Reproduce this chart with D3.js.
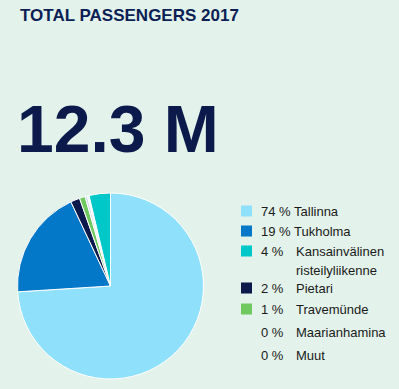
<!DOCTYPE html>
<html>
<head>
<meta charset="utf-8">
<script src="https://cdn.jsdelivr.net/npm/d3@7"></script>
<style>
  html, body { margin: 0; padding: 0; background: #e3f2ea; }
  svg { display: block; font-family: Arial, "Liberation Sans", sans-serif; }
</style>
</head>
<body>
<div id="chart"></div>
<script>
// data
var categories = ["Tallinna", "Tukholma", "Pietari", "Travemünde", "Maarianhamina", "Muut", "Kansainvälinen risteilyliikenne"];
var shares = [74.0, 19.0, 1.6, 1.0, 0.4, 0.3, 3.7];
var colors = ["#8fe1fb", "#0478c8", "#0b1a4b", "#70c95e", "#c9daf2", "#f4f8fb", "#00c8c8"];

// legend order & labels
var legendNames = ["Tallinna", "Tukholma", "Kansainvälinen risteilyliikenne", "Pietari", "Travemünde", "Maarianhamina", "Muut"];
var legendPct = ["74 %", "19 %", "4 %", "2 %", "1 %", "0 %", "0 %"];
var legendLines = [["Tallinna"], ["Tukholma"], ["Kansainvälinen", "risteilyliikenne"], ["Pietari"], ["Travemünde"], ["Maarianhamina"], ["Muut"]];
var legendSwatch = [true, true, true, true, true, false, false];

var width = 399, height = 389;

var svg = d3.select("#chart")
  .append("svg")
  .attr("width", width)
  .attr("height", height);

svg.append("rect")
  .attr("width", width)
  .attr("height", height)
  .attr("fill", "#e3f2ea");

// title
svg.append("text")
  .attr("x", 20)
  .attr("y", 21)
  .attr("font-size", 17)
  .attr("font-weight", "bold")
  .attr("fill", "#0b1f55")
  .text("TOTAL PASSENGERS 2017");

svg.append("text")
  .attr("x", 17)
  .attr("y", 152)
  .attr("font-size", 66)
  .attr("font-weight", "bold")
  .attr("fill", "#0b1a4b")
  .text("12.3 M");

// pie
var color = d3.scaleOrdinal().domain(categories).range(colors);
var pie = d3.pie().sort(null).value(function(d, i) { return shares[i]; });
var arc = d3.arc().innerRadius(0).outerRadius(93);

var g = svg.append("g")
  .attr("transform", "translate(110.5,286)");

g.selectAll("path")
  .data(pie(categories))
  .enter()
  .append("path")
    .attr("d", arc)
    .attr("fill", function(d) { return color(d.data); })
    .attr("stroke", "#ffffff")
    .attr("stroke-width", 1);

// legend
var rowY = d3.scaleOrdinal().domain(legendNames).range([211, 231, 251, 288, 309, 332, 355]);

var leg = svg.append("g")
  .attr("font-size", 13)
  .attr("fill", "#1a1a1a");

legendNames.forEach(function(name, i) {
  var y = rowY(name);
  if (legendSwatch[i]) {
    leg.append("rect")
      .attr("x", 241)
      .attr("y", y - 5.5)
      .attr("width", 11)
      .attr("height", 11)
      .attr("fill", color(name));
  }
  if (i < 2) {
    leg.append("text")
      .attr("x", 261)
      .attr("y", y)
      .attr("dy", "0.35em")
      .text(legendPct[i] + " " + legendLines[i][0]);
  } else {
    leg.append("text")
      .attr("x", 261)
      .attr("y", y)
      .attr("dy", "0.35em")
      .text(legendPct[i]);
    legendLines[i].forEach(function(line, j) {
      leg.append("text")
        .attr("x", 296)
        .attr("y", y + j * 19)
        .attr("dy", "0.35em")
        .text(line);
    });
  }
});
</script>
</body>
</html>
